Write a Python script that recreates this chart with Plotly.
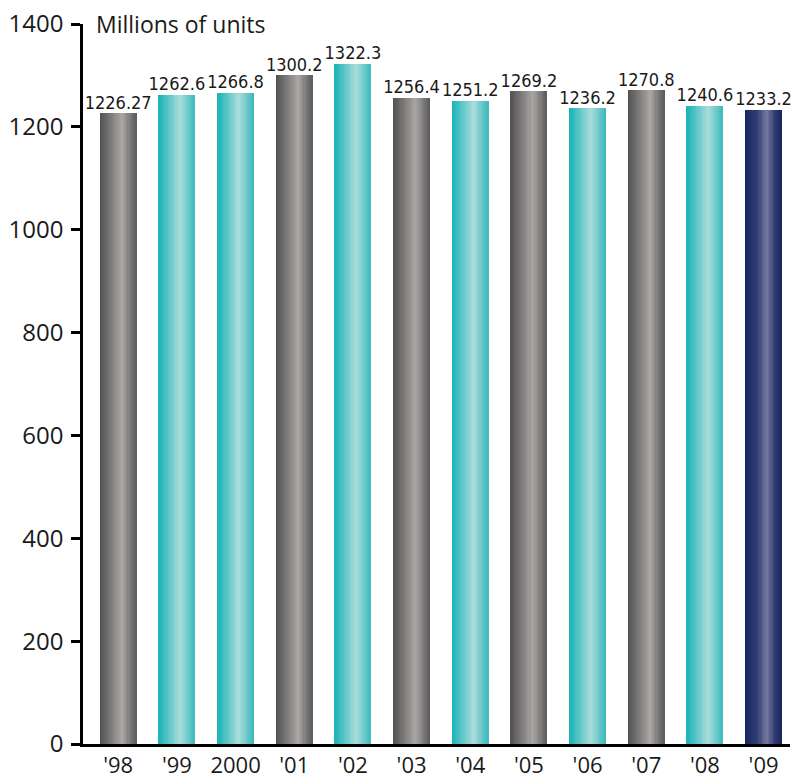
import plotly.graph_objects as go

years = ["'98", "'99", "2000", "'01", "'02", "'03", "'04", "'05", "'06", "'07", "'08", "'09"]
values = [1226.27, 1262.6, 1266.8, 1300.2, 1322.3, 1256.4, 1251.2, 1269.2, 1236.2, 1270.8, 1240.6, 1233.2]
labels = ["1226.27", "1262.6", "1266.8", "1300.2", "1322.3", "1256.4", "1251.2", "1269.2", "1236.2", "1270.8", "1240.6", "1233.2"]
groups = ["gray", "teal", "teal", "gray", "teal", "gray", "teal", "gray", "teal", "gray", "teal", "navy"]
y_ticks = [0, 200, 400, 600, 800, 1000, 1200, 1400]

# gradient stops (position, rgb) per colour group
gradients = {
    "gray": [(0.0, (80, 80, 80)), (0.62, (170, 166, 164)), (1.0, (92, 92, 92))],
    "teal": [(0.0, (20, 178, 181)), (0.6, (172, 220, 220)), (1.0, (60, 186, 188))],
    "navy": [(0.0, (22, 38, 96)), (0.35, (50, 64, 118)), (0.6, (118, 122, 160)),
             (0.82, (48, 60, 112)), (1.0, (22, 38, 96))],
}


def grad_color(stops, t):
    for (p0, c0), (p1, c1) in zip(stops, stops[1:]):
        if p0 <= t <= p1:
            f = (t - p0) / (p1 - p0)
            c = [round(a + (b - a) * f) for a, b in zip(c0, c1)]
            return f"rgb({c[0]},{c[1]},{c[2]})"
    c = stops[-1][1]
    return f"rgb({c[0]},{c[1]},{c[2]})"


x = list(range(len(years)))
bar_w = 0.62
n_slices = 30
sw = bar_w / n_slices

fig = go.Figure()
for i in range(n_slices):
    t = (i + 0.5) / n_slices
    cols = [grad_color(gradients[g], t) for g in groups]
    fig.add_trace(go.Bar(
        x=x, y=values,
        width=[sw * 1.08] * len(x),
        offset=[-bar_w / 2 + i * sw] * len(x),
        marker=dict(color=cols, line=dict(width=0)),
        showlegend=False, hoverinfo="skip",
    ))

fig.add_trace(go.Scatter(
    x=x, y=values, mode="text", text=labels, textposition="top center",
    textfont=dict(family="Liberation Sans Narrow, DejaVu Sans Condensed, Arial Narrow, sans-serif",
                  size=18, color="#1a1a1a"),
    showlegend=False, hoverinfo="skip", cliponaxis=False,
))

fig.add_annotation(
    text="Millions of units", xref="paper", yref="y", x=0.015, y=1400,
    xanchor="left", yanchor="middle", showarrow=False,
    font=dict(family="Open Sans, Lato, sans-serif", size=23, color="#1a1a1a"),
)

fig.update_layout(
    width=803, height=778,
    margin=dict(l=83, r=13, t=24, b=34),
    plot_bgcolor="white", paper_bgcolor="white",
    barmode="overlay", bargap=0,
    font=dict(family="Open Sans, Lato, sans-serif", size=23, color="#1a1a1a"),
)
fig.update_xaxes(
    range=[-0.6, 11.45], tickmode="array", tickvals=x, ticktext=years,
    showline=True, linecolor="black", linewidth=2.5, ticks="", ticklen=0, showgrid=False,
    zeroline=False, tickfont=dict(size=22), automargin=False, ticklabelstandoff=0,
)
fig.update_yaxes(
    range=[0, 1400], tickmode="array", tickvals=y_ticks, ticktext=[str(v) for v in y_ticks],
    showline=True, linecolor="black", linewidth=2.5, ticks="outside", ticklen=9,
    tickwidth=2.5, tickcolor="black", showgrid=False, zeroline=False,
    tickfont=dict(size=24), ticklabelstandoff=3, automargin=False,
)

fig.write_html("out.html")
